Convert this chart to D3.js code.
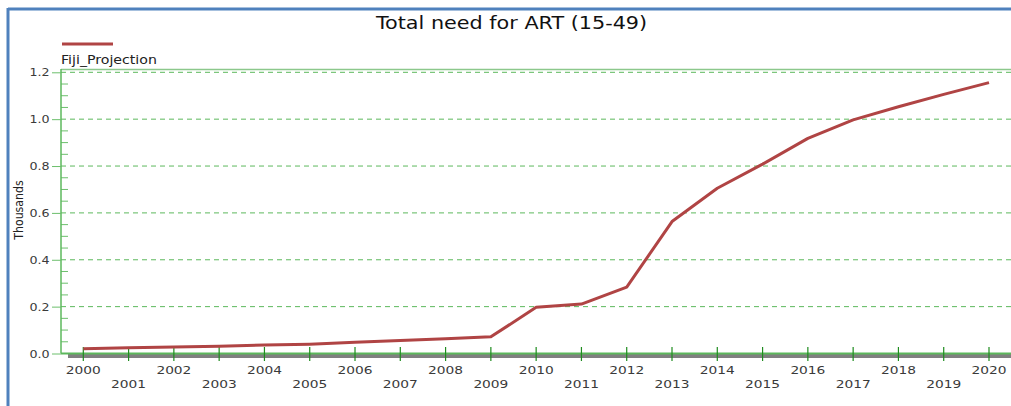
<!DOCTYPE html>
<html>
<head>
<meta charset="utf-8">
<script src="https://cdn.jsdelivr.net/npm/d3@7"></script>
<style>
	body { margin: 0; background: #fff; }
	svg { display: block; font-family: "DejaVu Sans", Verdana, sans-serif; }
</style>
</head>
<body>
<div id="chart"></div>
<script>
// chart data
const years = [2000, 2001, 2002, 2003, 2004, 2005, 2006, 2007, 2008, 2009, 2010,
	2011, 2012, 2013, 2014, 2015, 2016, 2017, 2018, 2019, 2020];
const fijiProjection = [0.020, 0.025, 0.028, 0.031, 0.036, 0.040, 0.048, 0.056, 0.063, 0.071, 0.197,
	0.211, 0.283, 0.563, 0.705, 0.808, 0.918, 0.997, 1.053, 1.106, 1.156];
const yTicks = [0.0, 0.2, 0.4, 0.6, 0.8, 1.0, 1.2];
const titleText = "Total need for ART (15-49)";
const seriesName = "Fiji_Projection";
const yLabel = "Thousands";

const width = 1011, height = 406;
const margin = { top: 72.3, left: 61, bottom: 353.5 };
// the original picture is stretched sideways, so text is too
const stretch = 1.22;

const svg = d3.select("#chart").append("svg")
	.attr("width", width)
	.attr("height", height);

// text placed at (tx, ty) and widened by sx
function wideText(parent, tx, ty, sx, size, str, anchor) {
	return parent.append("g")
		.attr("transform", "translate(" + tx + "," + ty + ") scale(" + sx + ",1)")
		.append("text")
		.attr("text-anchor", anchor || "start")
		.style("font-size", size + "px")
		.style("fill", "#3a3a3a")
		.text(str);
}

// blue frame
svg.append("line")
	.attr("x1", 8).attr("x2", width).attr("y1", 9).attr("y2", 9)
	.style("stroke", "#4f81bd").style("stroke-width", 3);
svg.append("line")
	.attr("x1", 8).attr("x2", 8).attr("y1", 8).attr("y2", height)
	.style("stroke", "#4f81bd").style("stroke-width", 3);

// scales
const x = d3.scaleLinear().domain([2000, 2020]).range([83.3, 989]);
const y = d3.scaleLinear().domain([0, 1.2]).range([margin.bottom, margin.top]);

// title
wideText(svg, 511.5, 29, 1.22, 17, titleText, "middle").style("fill", "#111");

// legend
svg.append("line")
	.attr("x1", 62).attr("x2", 113).attr("y1", 44).attr("y2", 44)
	.style("stroke", "#b04444").style("stroke-width", 3);
wideText(svg, 61, 64, 1.18, 12, seriesName).style("fill", "#222");

// y axis label
svg.append("text")
	.attr("transform", "translate(23,210) rotate(-90) scale(1,1.15)")
	.attr("text-anchor", "middle")
	.style("font-size", "11px")
	.style("fill", "#222")
	.text(yLabel);

// top border of plot
svg.append("line")
	.attr("x1", margin.left).attr("x2", width).attr("y1", 69.5).attr("y2", 69.5)
	.style("stroke", "#8cc88c").style("stroke-width", 1.5);

// gridlines
svg.append("g").selectAll("line")
	.data(yTicks.filter(d => d > 0))
	.enter().append("line")
	.attr("x1", margin.left).attr("x2", width)
	.attr("y1", d => y(d)).attr("y2", d => y(d))
	.style("stroke", "#5cb85c")
	.style("stroke-dasharray", "5,4")
	.style("stroke-width", 1);

// minor y ticks
const minorTicks = d3.range(0, 1.2, 0.05).filter(d => Math.round(d * 100) % 20 !== 0);
svg.append("g").selectAll("line")
	.data(minorTicks)
	.enter().append("line")
	.attr("x1", margin.left).attr("x2", margin.left + 7)
	.attr("y1", d => y(d)).attr("y2", d => y(d))
	.style("stroke", "#6cbf6c");

// y axis
const yAxis = svg.append("g")
	.attr("transform", "translate(" + margin.left + ",0)")
	.call(d3.axisLeft(y).tickValues(yTicks).tickFormat(() => "").tickSize(9));
yAxis.select(".domain").attr("d", "M0," + 69 + "V" + margin.bottom)
	.style("stroke", "#5cb85c").style("stroke-width", 1.5);
yAxis.selectAll(".tick line").style("stroke", "#6cbf6c");

const yFmt = d3.format(".1f");
yTicks.forEach(d => wideText(svg, 49.5, y(d) + 4, 1.15, 11, yFmt(d), "end"));

// x axis gray bar and line
svg.append("rect")
	.attr("x", 68).attr("y", margin.bottom).attr("width", width - 68).attr("height", 4.5)
	.style("fill", "#808080");
svg.append("line")
	.attr("x1", margin.left).attr("x2", width)
	.attr("y1", margin.bottom).attr("y2", margin.bottom)
	.style("stroke", "#5cb85c").style("stroke-width", 2);

// x ticks
svg.append("g").selectAll("line")
	.data(years)
	.enter().append("line")
	.attr("x1", d => x(d)).attr("x2", d => x(d))
	.attr("y1", 347).attr("y2", 361)
	.style("stroke", "#1e8c1e").style("stroke-width", 1.2);

years.forEach((d, i) => wideText(svg, x(d), i % 2 === 0 ? 374 : 387.5, 1.25, 11, d, "middle"));

// series line
const line = d3.line()
	.x((d, i) => x(years[i]))
	.y(d => y(d));

svg.append("path")
	.datum(fijiProjection)
	.attr("d", line)
	.style("fill", "none")
	.style("stroke", "#b04444")
	.style("stroke-width", 3)
	.style("stroke-linejoin", "round");
</script>
</body>
</html>
